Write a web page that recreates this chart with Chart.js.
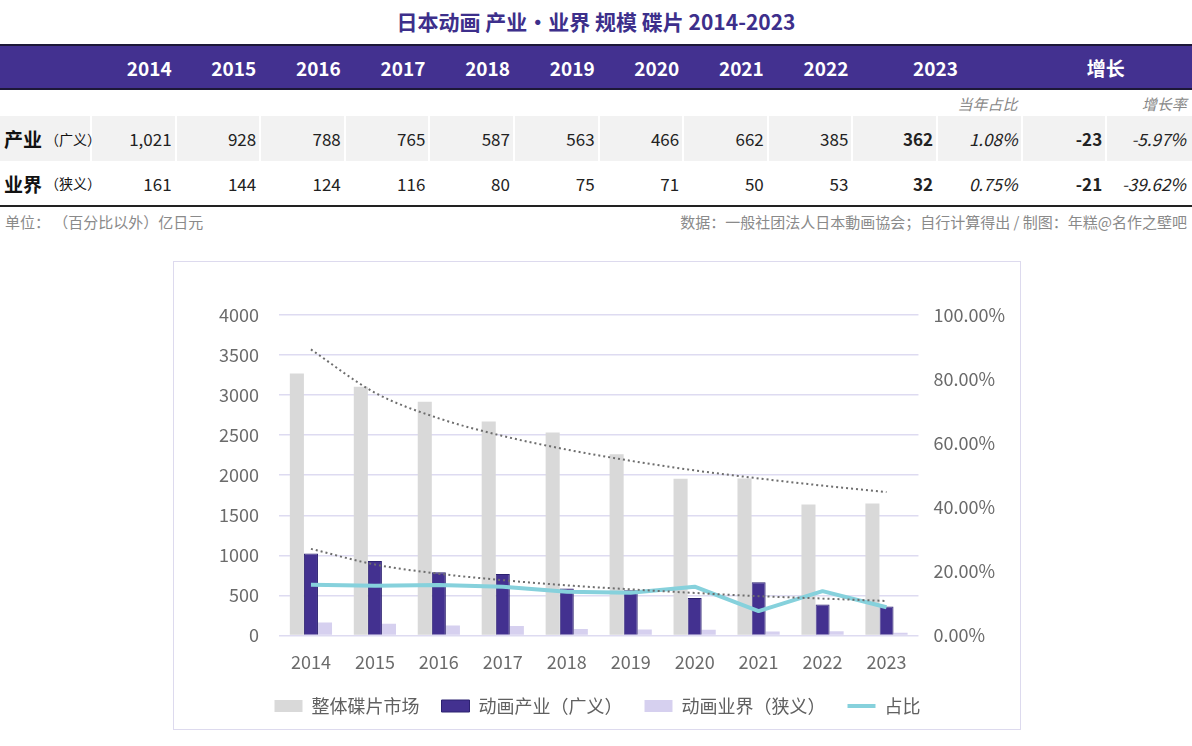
<!DOCTYPE html>
<html>
<head>
<meta charset="utf-8">
<script src="https://cdn.jsdelivr.net/npm/chart.js@4.4.1/dist/chart.umd.min.js"></script>
<style>
  body { margin: 0; width: 1192px; height: 746px; background: #fff; position: relative; overflow: hidden;
         font-family: 'Noto Sans CJK SC', 'Noto Sans', sans-serif; }
  #title { position: absolute; left: 0; top: 6px; width: 1192px; text-align: center; font-size: 21px;
           font-weight: 700; color: #3d2f8b; }
  .band { position: absolute; left: 0; top: 44px; width: 1192px; height: 42px; background: #433190;
          border-top: 2px solid #1d1838; border-bottom: 2px solid #1d1838; }
  .c { position: absolute; box-sizing: border-box; white-space: nowrap; display: flex; align-items: center; }
  .hd { color: #fff; font-weight: 700; font-size: 19px; justify-content: flex-end; padding-right: 3px; }
  .sub { color: #888; font-style: italic; font-size: 15px; justify-content: flex-end; padding-right: 3px; }
  .v { color: #222; font-size: 17px; justify-content: flex-end; padding-right: 3px; }
  .lbl { color: #111; font-size: 19px; font-weight: 700; padding-left: 4px; }
  .lbl span { font-size: 14px; font-weight: 400; margin-left: 3px; }
  .gray { background: #f2f2f2; }
  .b { font-weight: 700; }
  .i { font-style: italic; }
  #rule { position: absolute; left: 0; top: 205px; width: 1192px; height: 2px; background: #222; }
  .note { position: absolute; top: 211px; font-size: 15px; color: #8a8a8a; }
  #chartBox { position: absolute; left: 173px; top: 261px; width: 848px; height: 469px; box-sizing: border-box;
              border: 1.5px solid #dddaee; }
</style>
</head>
<body>
<div id="title">日本动画 产业・业界 规模 碟片 2014-2023</div>
<div id="table"></div>
<div id="rule"></div>
<div class="note" style="left:5px">单位： （百分比以外）亿日元</div>
<div class="note" style="right:5px">数据：一般社团法人日本動画協会；自行计算得出 / 制图：年糕@名作之壁吧</div>
<div id="chartBox"><canvas id="chart"></canvas></div>
<script>
const years = ['2014', '2015', '2016', '2017', '2018', '2019', '2020', '2021', '2022', '2023']
const discTotal = [3270, 3105, 2917, 2671, 2534, 2263, 1955, 1959, 1634, 1646]
const industry = [1021, 928, 788, 765, 587, 563, 466, 662, 385, 362]
const narrow = [161, 144, 124, 116, 80, 75, 71, 50, 53, 32]
const share = [0.158, 0.155, 0.157, 0.152, 0.136, 0.133, 0.152, 0.076, 0.138, 0.088]
// dotted trend lines
const discTrend = [3570, 3030, 2710, 2490, 2320, 2180, 2060, 1960, 1870, 1790]
const industryTrend = [1080, 885, 770, 690, 625, 575, 530, 490, 460, 430]

const rowLabels = [['产业', '（广义）'], ['业界', '（狭义）']]
const rowValues = [industry, narrow]
const yearShare = ['1.08%', '0.75%']
const growth = ['-23', '-21']
const growthRate = ['-5.97%', '-39.62%']

// ---- table ----
const table = document.getElementById('table')
const colL = i => 92 + i * 84.6
const colW = 82.6
function cell(cls, text, left, top, width, height) {
    const d = document.createElement('div')
    d.className = 'c ' + cls
    d.style.left = left + 'px'
    d.style.top = top + 'px'
    d.style.width = width + 'px'
    d.style.height = height + 'px'
    d.innerHTML = text
    table.appendChild(d)
    return d
}
const band = document.createElement('div')
band.className = 'band'
table.appendChild(band)
years.slice(0, 9).forEach((y, i) => cell('hd', y, colL(i), 44, colW, 46))
cell('hd', years[9], colL(9), 44, colL(11) - colL(9) - 2, 46).style.justifyContent = 'center'
cell('hd', '增长', colL(11), 44, 1192 - colL(11), 46).style.justifyContent = 'center'
cell('sub', '当年占比', colL(10), 90, colW, 26)
cell('sub', '增长率', colL(12), 90, colW, 26)

const rowTop = [116, 161]
const rowH = [45, 44]
rowValues.forEach((vals, r) => {
    const bg = r === 0 ? ' gray' : ''
    cell('lbl' + bg, rowLabels[r][0] + '<span>' + rowLabels[r][1] + '</span>', 0, rowTop[r], 90, rowH[r])
    vals.forEach((v, i) => cell('v' + bg + (i === 9 ? ' b' : ''), v.toLocaleString('en-US'), colL(i), rowTop[r], colW, rowH[r]))
    cell('v i' + bg, yearShare[r], colL(10), rowTop[r], colW, rowH[r])
    cell('v b' + bg, growth[r], colL(11), rowTop[r], colW, rowH[r])
    cell('v i' + bg, growthRate[r], colL(12), rowTop[r], 1192 - colL(12), rowH[r]).style.paddingRight = '6px'
})

// ---- chart ----
Chart.defaults.font.family = "'Noto Sans CJK SC', 'Noto Sans', sans-serif"
Chart.defaults.font.size = 18
Chart.defaults.color = '#6b6b6b'

const ctx = document.getElementById('chart')
new Chart(ctx, {
    data: {
        labels: years,
        datasets: [
            { type: 'bar', label: '整体碟片市场', data: discTotal, backgroundColor: '#d9d9d9', order: 5 },
            { type: 'bar', label: '动画产业（广义）', data: industry, backgroundColor: '#433190',
              borderColor: '#2c2270', borderWidth: 1, order: 5 },
            { type: 'bar', label: '动画业界（狭义）', data: narrow, backgroundColor: '#d6d0ef', order: 5 },
            { type: 'line', label: '占比', data: share, yAxisID: 'y1', borderColor: '#86d1dc', borderWidth: 4,
              pointRadius: 0, tension: 0, borderJoinStyle: 'round', order: 2 },
            { type: 'line', label: 'trend1', trend: true, data: discTrend, borderColor: '#6e6e6e', borderWidth: 2,
              borderDash: [2, 3], pointRadius: 0, cubicInterpolationMode: 'monotone', order: 1 },
            { type: 'line', label: 'trend2', trend: true, data: industryTrend, borderColor: '#6e6e6e', borderWidth: 2,
              borderDash: [2, 3], pointRadius: 0, cubicInterpolationMode: 'monotone', order: 1 }
        ]
    },
    options: {
        responsive: true,
        maintainAspectRatio: false,
        animation: false,
        layout: { padding: { left: 1, right: 0, top: 53, bottom: 4 } },
        datasets: { bar: { categoryPercentage: 0.66, barPercentage: 1 } },
        plugins: {
            tooltip: { enabled: false },
            legend: {
                position: 'bottom',
                labels: {
                    usePointStyle: true,
                    pointStyleWidth: 28,
                    boxHeight: 12,
                    padding: 22,
                    color: '#606060',
                    sort: (a, b) => a.datasetIndex - b.datasetIndex,
                    generateLabels: chart => Chart.defaults.plugins.legend.labels.generateLabels(chart)
                        .filter(l => !chart.data.datasets[l.datasetIndex].trend)
                        .map(l => {
                            l.pointStyle = chart.data.datasets[l.datasetIndex].type === 'line' ? 'line' : 'rect'
                            return l
                        })
                }
            }
        },
        scales: {
            x: {
                grid: { display: false, drawTicks: false },
                border: { display: false },
                ticks: { padding: 16 },
                afterFit: scale => { scale.height -= 14 }
            },
            y: {
                min: 0, max: 4000,
                ticks: { stepSize: 500, padding: 20, callback: v => String(v) },
                grid: { color: '#dedbf1', lineWidth: 1.5, drawTicks: false },
                border: { display: false },
                afterFit: scale => { scale.width += 24 }
            },
            y1: {
                position: 'right',
                min: 0, max: 1,
                ticks: { stepSize: 0.2, padding: 15, callback: v => (v * 100).toFixed(2) + '%' },
                grid: { display: false, drawTicks: false },
                border: { display: false }
            }
        }
    }
})
</script>
</body>
</html>
